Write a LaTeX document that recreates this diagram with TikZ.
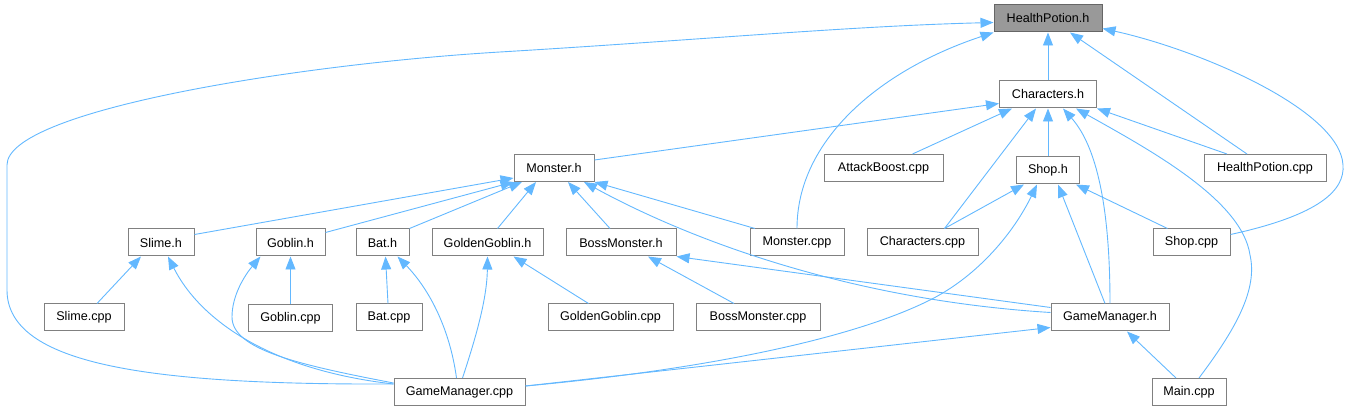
\documentclass[tikz,border=0pt]{standalone}
\usepackage{fontspec}
\setmainfont{Liberation Sans}
\usepackage{tikz}
\usetikzlibrary{arrows.meta, positioning}
\definecolor{DGblue}{HTML}{63B8FF}
\definecolor{DGgrey}{HTML}{808080}
\definecolor{DGroot}{HTML}{999999}
\definecolor{DGdark}{HTML}{666666}
\tikzset{
  dgbox/.style={
    rectangle, draw=DGgrey, line width=1pt, fill=white, text=black,
    inner sep=0pt, minimum height=27pt, font=\fontsize{12.6}{15}\selectfont},
  dgroot/.style={dgbox, fill=DGroot, draw=DGdark},
  dgarr/.style={-{Triangle[length=13pt,width=10pt]}, line width=0.9pt, draw=DGblue},
}

\begin{document}
\begin{tikzpicture}[x=1pt, y=-1pt]
  \useasboundingbox (0,0) rectangle (1350,411);
  %% Row 0: the header
  \node[dgroot, minimum width=108] (hp) at (1048,18.5) {HealthPotion.h};
  %% Row 1
  \node[dgbox, minimum width=97, below=48pt of hp] (chr) {Characters.h};
  %% Row 2
  \node[dgbox, minimum width=80]  (mon)  at (554,168)    {Monster.h};
  \node[dgbox, minimum width=119] (atk)  at (883.5,168)  {AttackBoost.cpp};
  \node[dgbox, minimum width=63, below=48pt of chr] (shop) {Shop.h};
  \node[dgbox, minimum width=122] (hpc)  at (1265,168)   {HealthPotion.cpp};
  %% Row 3
  \node[dgbox, minimum width=66]  (slime) at (161,242.5)   {Slime.h};
  \node[dgbox, minimum width=69]  (gob)   at (290.5,242.5) {Goblin.h};
  \node[dgbox, minimum width=53]  (bat)   at (382.5,242.5) {Bat.h};
  \node[dgbox, minimum width=111] (ggob)  at (487.5,242.5) {GoldenGoblin.h};
  \node[dgbox, minimum width=110] (boss)  at (621,242.5)   {BossMonster.h};
  \node[dgbox, minimum width=94]  (monc)  at (797,242.5)   {Monster.cpp};
  \node[dgbox, minimum width=111] (chrc)  at (922.5,242.5) {Characters.cpp};
  \node[dgbox, minimum width=77]  (shopc) at (1191.5,242.5){Shop.cpp};
  %% Row 4
  \node[dgbox, minimum width=80]  (slimec) at (84,317.5)  {Slime.cpp};
  \node[dgbox, minimum width=84, below=48pt of gob] (gobc) {Goblin.cpp};
  \node[dgbox, minimum width=66]  (batc)   at (389,317.5)   {Bat.cpp};
  \node[dgbox, minimum width=125] (ggobc)  at (610.5,317.5) {GoldenGoblin.cpp};
  \node[dgbox, minimum width=124] (bossc)  at (758,317.5)   {BossMonster.cpp};
  \node[dgbox, minimum width=118] (gmh)    at (1110,317.5)  {GameManager.h};
  %% Row 5
  \node[dgbox, minimum width=131] (gmc)   at (459.5,392) {GameManager.cpp};
  \node[dgbox, minimum width=74]  (mainc) at (1189,392)  {Main.cpp};
  %% Arrows into HealthPotion.h
  \draw[dgarr] ([yshift=8pt]gmc.west) .. controls (150,385) and (7,365) .. (7,290)
    -- (7,165) .. controls (7,110) and (300,64) .. (500,52)
    .. controls (700,40) and (850,26) .. ([yshift=-4pt]hp.west);
  \draw[dgarr] (monc.north) .. controls (797,140) and (880,70) .. (hp.south west);
  \draw[dgarr] (chr) -- (hp);
  \draw[dgarr] ([xshift=-18pt]hpc.north) -- ([xshift=22pt]hp.south);
  \draw[dgarr] ([yshift=8pt]shopc.east) .. controls (1320,215) and (1345,190) .. (1343,165)
    .. controls (1340,110) and (1200,50) .. ([yshift=-10pt]hp.east);
  %% Arrows into Characters.h
  \draw[dgarr] ([yshift=8pt]mon.east) -- ([yshift=-9pt]chr.west);
  \draw[dgarr] ([xshift=29pt]atk.north) -- ([xshift=-36pt]chr.south);
  \draw[dgarr] ([xshift=22pt]chrc.north) -- ([xshift=-12pt]chr.south);
  \draw[dgarr] (shop) -- (chr);
  \draw[dgarr] (gmh.north) .. controls (1110,220) and (1100,150) .. ([xshift=15pt]chr.south);
  \draw[dgarr] ([xshift=10pt]mainc.north) .. controls (1235,330) and (1258,290) .. (1250,255)
    .. controls (1242,200) and (1150,150) .. ([xshift=28pt]chr.south);
  \draw[dgarr] ([xshift=-38pt]hpc.north) -- (chr.south east);
  %% Arrows into Monster.h
  \draw[dgarr] ([yshift=8pt]slime.east) -- ([yshift=-10pt]mon.west);
  \draw[dgarr] ([yshift=10pt]gob.east) -- (mon.south west);
  \draw[dgarr] (bat.north east) -- ([xshift=-32pt]mon.south);
  \draw[dgarr] ([xshift=10pt]ggob.north) -- ([xshift=-18pt]mon.south);
  \draw[dgarr] ([xshift=-11pt]boss.north) -- ([xshift=14pt]mon.south);
  \draw[dgarr] ([yshift=5pt]gmh.west) .. controls (850,300) and (690,240) .. ([xshift=30pt]mon.south);
  \draw[dgarr] ([xshift=-42pt]monc.north) -- (mon.south east);
  %% Arrows into Shop.h
  \draw[dgarr] ([xshift=22pt]chrc.north) -- ([xshift=-24pt]shop.south);
  \draw[dgarr] ([yshift=6pt]gmc.east) .. controls (700,370) and (850,340) .. (930,300)
    .. controls (980,275) and (1015,230) .. ([xshift=-11pt]shop.south);
  \draw[dgarr] ([xshift=-5pt]gmh.north) -- ([xshift=10pt]shop.south);
  \draw[dgarr] ([xshift=-24pt]shopc.north) -- ([xshift=-4pt]shop.south east);
  %% Arrows into the monster headers
  \draw[dgarr] ([xshift=13pt]slimec.north) -- ([xshift=-20pt]slime.south);
  \draw[dgarr] ([yshift=8pt]gmc.west) .. controls (270,370) and (200,320) .. ([xshift=7pt]slime.south);
  \draw[dgarr] (gobc) -- (gob);
  \draw[dgarr] ([yshift=9pt]gmc.west) .. controls (300,365) and (232,350) .. (232,317)
    .. controls (232,295) and (245,275) .. ([xshift=-30pt]gob.south);
  \draw[dgarr] ([xshift=-1pt]batc.north) -- ([xshift=3pt]bat.south);
  \draw[dgarr] ([xshift=-3pt]gmc.north) .. controls (450,330) and (430,290) .. ([xshift=15pt]bat.south);
  \draw[dgarr] ([xshift=3pt]gmc.north) .. controls (475,340) and (487,300) .. (ggob.south);
  \draw[dgarr] ([xshift=-22pt]ggobc.north) -- ([xshift=26pt]ggob.south);
  \draw[dgarr] ([xshift=-24pt]bossc.north) -- ([xshift=27pt]boss.south);
  \draw[dgarr] ([yshift=10pt]gmh.west) -- (boss.south east);
  %% Arrows into GameManager.h
  \draw[dgarr] ([yshift=6pt]gmc.east) -- ([yshift=-10pt]gmh.west);
  \draw[dgarr] ([xshift=-13pt]mainc.north) -- ([xshift=17pt]gmh.south);
\end{tikzpicture}
\end{document}
